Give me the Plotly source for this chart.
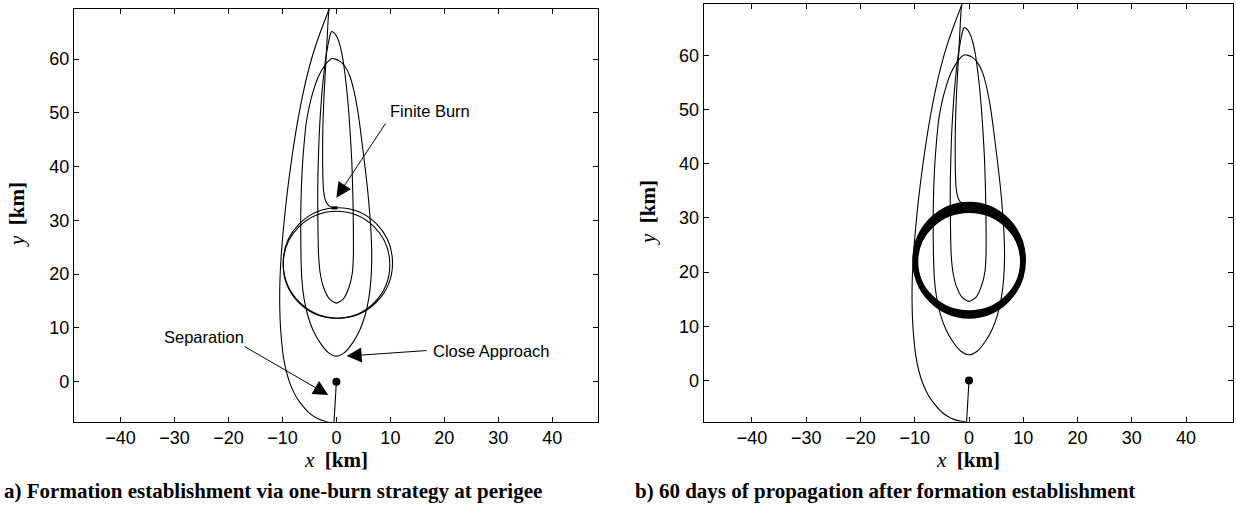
import plotly.graph_objects as go

# ---------------- data (km) ----------------
x_ticks = [-40, -30, -20, -10, 0, 10, 20, 30, 40]
y_ticks = [0, 10, 20, 30, 40, 50, 60]

# separation point (chief) and separation leg
sep_pt_x = [0.0]
sep_pt_y = [0.0]
sep_x = [0.0, -0.45]
sep_y = [0.0, -7.65]

# first (largest) loop: from below the frame up the left side, out of the top
loopA_x = [-0.45, -1.8, -3.4, -4.9, -6.2, -7.45, -8.5, -9.25, -9.8, -10.15, -10.4, -10.5, -10.45,
           -10.25, -9.85, -9.35, -8.75, -8.05, -7.25, -6.3, -5.15, -4.0, -2.6, -1.35, -0.6]
loopA_y = [-7.65, -7.45, -6.9, -5.95, -4.55, -2.8, -0.6, 1.8, 4.5, 7.5, 11.0, 15.0, 19.0,
           23.0, 28.0, 33.0, 38.0, 43.0, 48.0, 53.0, 58.0, 62.0, 66.0, 69.3, 72.0]

# loop with apex at ~60 km and close approach at ~4.7 km
loopB_x = [-0.85, 0.5, 1.6, 2.5, 3.2, 3.8, 4.3, 4.8, 5.3, 5.8, 6.2, 6.45, 6.55, 6.4, 6.0, 5.3, 4.3, 3.0, 1.5, 0.0,
           -1.5, -3.0, -4.3, -5.3, -6.0, -6.4, -6.55, -6.6, -6.6, -6.5, -6.3, -6.0, -5.6, -5.0, -4.2, -3.3,
           -2.3, -1.5, -0.85]
loopB_y = [60.1, 59.7, 58.6, 56.8, 54.3, 51.3, 48.0, 44.0, 40.0, 35.5, 31.0, 27.0, 23.0, 19.0, 15.5, 12.3, 9.5,
           7.2, 5.4, 4.75, 5.4, 7.2, 9.5, 12.3, 15.5, 19.0, 23.0, 27.0, 31.0, 35.5, 40.0, 44.0, 48.0, 51.3,
           54.3, 56.8, 58.6, 59.6, 60.1]

# narrow loop with apex at ~65 km and bottom at ~14.6 km
loopC_x = [-0.9, -0.35, 0.2, 0.7, 1.15, 1.55, 1.95, 2.3, 2.6, 2.85, 3.0, 3.1, 3.15, 3.15, 2.95, 2.35, 1.3, 0.0,
           -1.3, -2.4, -3.0, -3.3, -3.4, -3.45, -3.45, -3.35, -3.2, -2.95, -2.65, -2.3, -1.95, -1.6, -1.3,
           -1.1, -0.9]
loopC_y = [65.1, 64.8, 63.9, 62.4, 60.3, 57.5, 54.0, 50.0, 45.5, 41.0, 36.5, 32.0, 27.5, 23.5, 20.2, 17.6, 15.4,
           14.6, 15.4, 17.6, 20.2, 23.5, 27.5, 32.0, 36.5, 41.0, 45.5, 50.0, 54.0, 57.5, 60.3, 62.4, 63.9,
           64.7, 65.1]

# final descent to the burn point
desc_x = [-0.6, -1.35, -1.7, -2.0, -2.3, -2.5, -2.55, -2.5, -2.35, -1.95, -1.3, -0.6, 0.0]
desc_y = [72.0, 69.3, 64.0, 58.5, 53.0, 47.5, 42.0, 38.0, 35.3, 33.5, 32.65, 32.4, 32.35]

# finite burn arc
burn_x = [-0.9, 0.2]
burn_y = [32.3, 32.35]

# formation orbit after the burn (panel a): bounding extents of each revolution
orbA_left = [-9.85, -9.85]
orbA_right = [10.4, 9.9]
orbA_bottom = [11.8, 11.8]
orbA_top = [32.35, 31.7]

# 60 days of propagation (panel b): band of revolutions
ring_left = [-10.3, -10.2, -10.1, -10.0, -9.95, -9.85, -9.75, -9.65, -9.6, -9.5]
ring_right = [10.35, 10.25, 10.15, 10.05, 9.95, 9.85, 9.8, 9.7, 9.6, 9.55]
ring_bottom = [11.55, 11.7, 11.8, 11.95, 12.1, 12.2, 12.35, 12.5, 12.65, 12.8]
ring_top = [32.85, 32.65, 32.45, 32.25, 32.05, 31.85, 31.65, 31.45, 31.25, 31.05]

caption_a = "a) Formation establishment via one-burn strategy at perigee"
caption_b = "b) 60 days of propagation after formation establishment"

# ---------------- figure ----------------
W, H = 1236, 510
fig = go.Figure()
LW = 1.1
SANS = "Liberation Sans, Arial, Helvetica, sans-serif"
SERIF = "Liberation Serif, Times New Roman, serif"


def add_common(xa, ya):
    for xs, ys in [(loopA_x, loopA_y), (loopB_x, loopB_y), (loopC_x, loopC_y), (desc_x, desc_y)]:
        fig.add_trace(go.Scatter(x=xs, y=ys, mode="lines", xaxis=xa, yaxis=ya,
                                 line=dict(color="black", width=LW, shape="spline", smoothing=0.7),
                                 showlegend=False, hoverinfo="skip"))
    fig.add_trace(go.Scatter(x=sep_x, y=sep_y, mode="lines", xaxis=xa, yaxis=ya,
                             line=dict(color="black", width=LW), showlegend=False, hoverinfo="skip"))
    fig.add_trace(go.Scatter(x=burn_x, y=burn_y, mode="lines", xaxis=xa, yaxis=ya,
                             line=dict(color="black", width=3), showlegend=False, hoverinfo="skip"))
    fig.add_trace(go.Scatter(x=sep_pt_x, y=sep_pt_y, mode="markers", xaxis=xa, yaxis=ya,
                             marker=dict(color="black", size=8), showlegend=False, hoverinfo="skip"))


add_common("x", "y")
add_common("x2", "y2")

shapes = []
for l, r, b, t in zip(orbA_left, orbA_right, orbA_bottom, orbA_top):
    shapes.append(dict(type="circle", xref="x", yref="y", x0=l, x1=r, y0=b, y1=t,
                       line=dict(color="black", width=LW)))
for l, r, b, t in zip(ring_left, ring_right, ring_bottom, ring_top):
    shapes.append(dict(type="circle", xref="x2", yref="y2", x0=l, x1=r, y0=b, y1=t,
                       line=dict(color="black", width=1.6)))

axis_common = dict(showline=True, linecolor="black", linewidth=1.3, mirror="ticks",
                   ticks="inside", ticklen=5, tickwidth=1, tickcolor="black",
                   showgrid=False, zeroline=False,
                   tickfont=dict(family=SANS, size=18, color="black"))

fig.update_layout(
    width=W, height=H,
    margin=dict(l=0, r=0, t=0, b=0),
    paper_bgcolor="white", plot_bgcolor="white",
    shapes=shapes,
    xaxis=dict(domain=[74 / W, 597.7 / W], range=[-48.6, 48.4], tickvals=x_ticks,
               anchor="y", **axis_common),
    yaxis=dict(domain=[1 - 421.7 / H, 1 - 9 / H], range=[-7.45, 69.3], tickvals=y_ticks,
               anchor="x", **axis_common),
    xaxis2=dict(domain=[703.7 / W, 1232.7 / W], range=[-48.9, 48.6], tickvals=x_ticks,
                anchor="y2", **axis_common),
    yaxis2=dict(domain=[1 - 421.7 / H, 1 - 4.3 / H], range=[-7.6, 69.4], tickvals=y_ticks,
                anchor="x2", **axis_common),
)

ann = []
title_font = dict(family=SERIF, size=21, color="black")
xt = "<i>x</i>&nbsp;&nbsp;<b>[km]</b>"
yt = "<i>y</i>&nbsp;&nbsp;<b>[km]</b>"
ann.append(dict(xref="paper", yref="paper", x=335.8 / W, y=1 - 460 / H, text=xt, showarrow=False,
                font=title_font, xanchor="center", yanchor="middle"))
ann.append(dict(xref="paper", yref="paper", x=968 / W, y=1 - 460 / H, text=xt, showarrow=False,
                font=title_font, xanchor="center", yanchor="middle"))
ann.append(dict(xref="paper", yref="paper", x=17 / W, y=1 - 215 / H, text=yt, showarrow=False,
                font=title_font, textangle=-90, xanchor="center", yanchor="middle"))
ann.append(dict(xref="paper", yref="paper", x=648 / W, y=1 - 213 / H, text=yt, showarrow=False,
                font=title_font, textangle=-90, xanchor="center", yanchor="middle"))

cap_font = dict(family=SERIF, size=21, color="black")
ann.append(dict(xref="paper", yref="paper", x=2 / W, y=1 - 491 / H, text="<b>" + caption_a + "</b>",
                showarrow=False, font=cap_font, xanchor="left", yanchor="middle"))
ann.append(dict(xref="paper", yref="paper", x=633 / W, y=1 - 491 / H, text="<b>" + caption_b + "</b>",
                showarrow=False, font=cap_font, xanchor="left", yanchor="middle"))

lab_font = dict(family=SANS, size=16.5, color="black")
# text labels (data coordinates of their left edge)
labels = [("Finite Burn", 9.5, 50.3), ("Separation", -32.3, 8.3), ("Close Approach", 17.6, 5.7)]
for txt, lx, ly in labels:
    ann.append(dict(xref="x", yref="y", x=lx, y=ly, text=txt, showarrow=False, font=lab_font,
                    xanchor="left", yanchor="middle"))
# arrows: (tail_x, tail_y, head_x, head_y)
arrows = [(9.3, 48.3, 0.0, 34.2), (-17.3, 6.7, -1.5, -2.5), (17.0, 5.8, 1.9, 4.75)]
for tx, ty, hx, hy in arrows:
    ann.append(dict(xref="x", yref="y", axref="x", ayref="y", x=hx, y=hy, ax=tx, ay=ty, text="",
                    showarrow=True, arrowhead=2, arrowsize=3, arrowwidth=1, arrowcolor="black",
                    standoff=0, startstandoff=0))

fig.update_layout(annotations=ann)
fig.write_html("out.html")
